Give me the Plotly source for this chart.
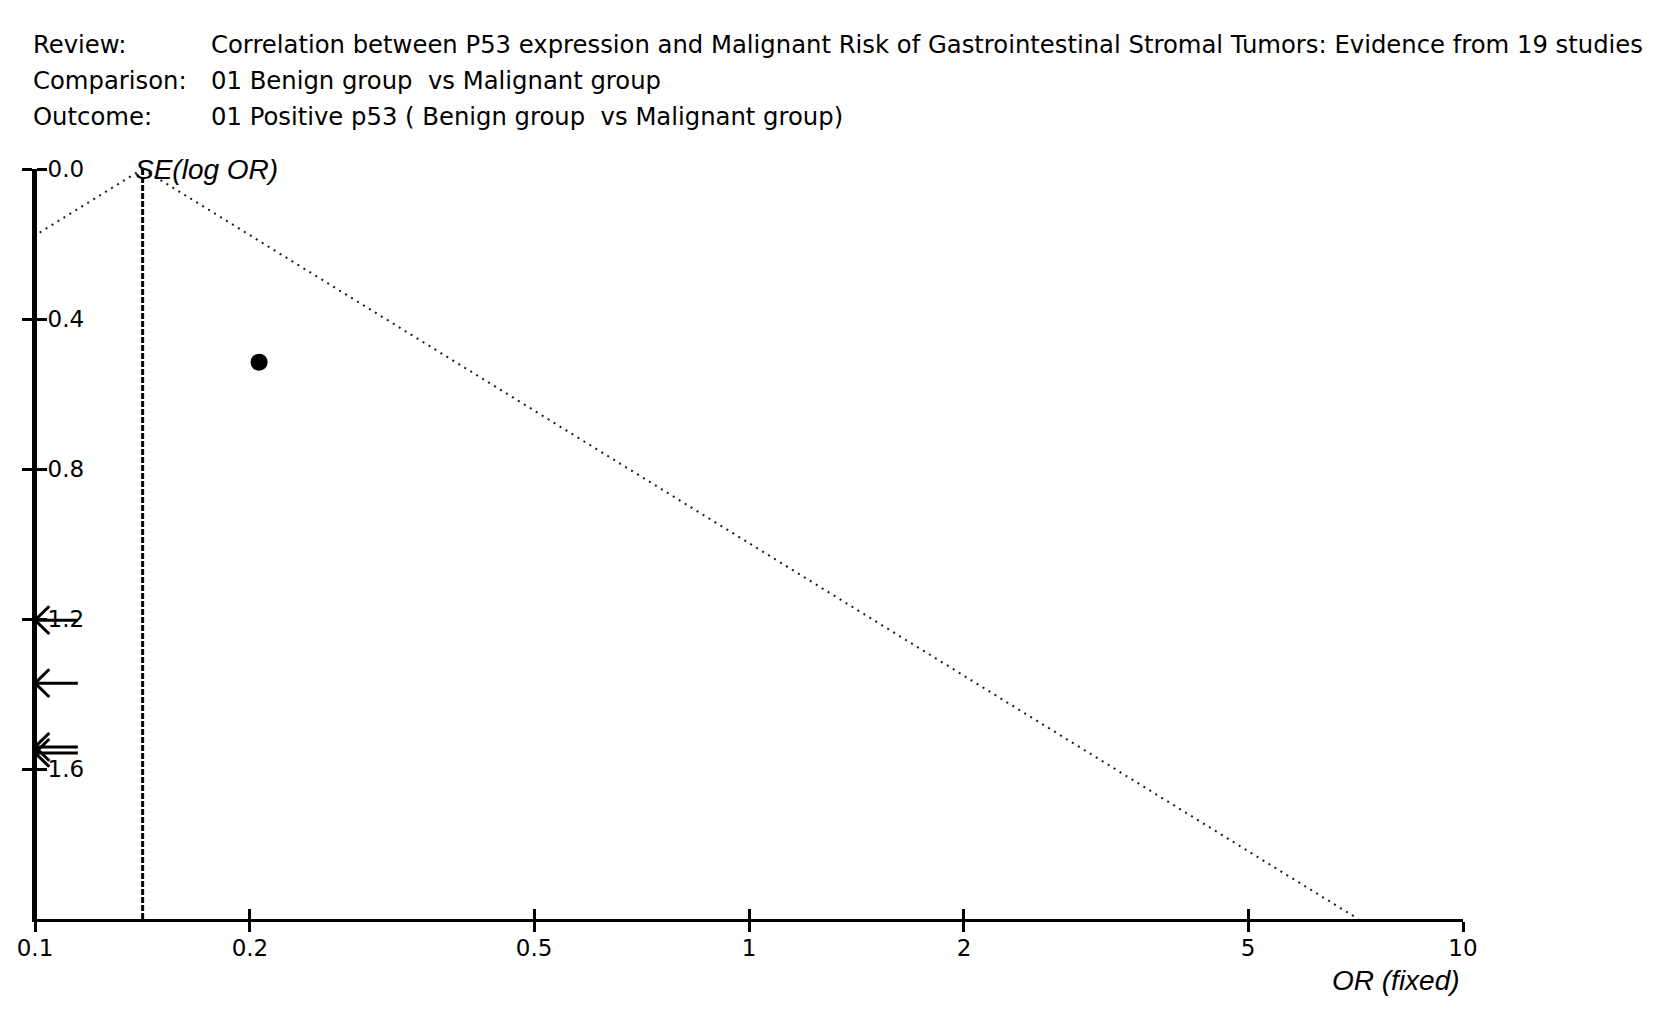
import numpy as np
import plotly.graph_objects as go

# header text
header_labels = ["Review:", "Comparison:", "Outcome:"]
header_values = [
    "Correlation between P53 expression and Malignant Risk of Gastrointestinal Stromal Tumors: Evidence from 19 studies",
    "01 Benign group  vs Malignant group",
    "01 Positive p53 ( Benign group  vs Malignant group)",
]

# funnel plot data
pooled_or = 0.1415
study_or = [0.206]
study_se = [0.515]
offscale_se = [1.203, 1.371, 1.541, 1.557]   # studies with OR below 0.1 (arrows)

se_ticks = [0.0, 0.4, 0.8, 1.2, 1.6]
or_ticks = [0.1, 0.2, 0.5, 1, 2, 5, 10]
or_ticktext = ["0.1", "0.2", "0.5", "1", "2", "5", "10"]
se_max = 2.0

FONT = "DejaVu Sans, Verdana, sans-serif"
ITALIC_FONT = "Liberation Sans, Arial, sans-serif"
W, H = 1654, 1022
L, R, T, B = 35, 191, 169, 103

fig = go.Figure()

# funnel (95% pseudo-confidence limits)
se_line = np.array([0.0, se_max])
lo = np.exp(np.log(pooled_or) - 1.96 * se_line)
hi = np.exp(np.log(pooled_or) + 1.96 * se_line)
for xs in (lo, hi):
    fig.add_trace(go.Scatter(x=xs, y=se_line, mode="lines", xaxis="x2", yaxis="y2",
                             line=dict(color="#1a1a1a", width=2, dash="2px,5px"),
                             hoverinfo="skip", showlegend=False))

# pooled estimate
fig.add_trace(go.Scatter(x=[pooled_or, pooled_or], y=[0, se_max], mode="lines",
                         line=dict(color="black", width=3, dash="6px,2px"),
                         hoverinfo="skip", showlegend=False))

# studies
fig.add_trace(go.Scatter(x=study_or, y=study_se, mode="markers",
                         marker=dict(color="black", size=17, symbol="circle"),
                         showlegend=False))

# off-scale arrows at the left edge
x_min = or_ticks[0]
tail = x_min * 10 ** 0.06
wing = x_min * 10 ** 0.02
dy = 0.037
ax, ay = [], []
for se in offscale_se:
    ax += [tail, x_min, None, wing, x_min, wing, None]
    ay += [se, se, None, se - dy, se, se + dy, None]
fig.add_trace(go.Scatter(x=ax, y=ay, mode="lines", line=dict(color="black", width=3),
                         hoverinfo="skip", showlegend=False))

axis_common = dict(showline=True, linecolor="black", linewidth=3, showgrid=False,
                   zeroline=False, tickcolor="black", tickwidth=3, ticklen=10)
tick_font = dict(family=FONT, size=23, color="black")

fig.update_layout(
    width=W, height=H,
    margin=dict(l=L, r=R, t=T, b=B),
    paper_bgcolor="white", plot_bgcolor="white",
    font=dict(family=FONT, size=22, color="black"),
    xaxis=dict(type="log", range=[-1, 1], tickvals=or_ticks, ticktext=or_ticktext,
               ticks="outside", tickfont=tick_font, ticklabelstandoff=-4, **axis_common),
    xaxis2=dict(type="log", range=[-1, 1], tickvals=or_ticks, overlaying="x",
                anchor="y", side="bottom", ticks="inside", showticklabels=False,
                **axis_common),
    # left half of the y ticks
    yaxis=dict(range=[se_max, 0], tickvals=se_ticks, ticks="outside",
               showticklabels=False, **axis_common),
    # right half of the y ticks + labels sitting inside the plot
    yaxis2=dict(range=[se_max, 0], tickvals=se_ticks, ticktext=[f"{v:.1f}" for v in se_ticks],
                overlaying="y", anchor="free", position=0, side="right",
                ticks="outside", tickfont=tick_font, ticklabelstandoff=-4, **axis_common),
)

pw, ph = W - L - R, H - T - B
def px(xp):
    return (xp - L) / pw
def py(yp):
    return (H - B - yp) / ph

ann = []
for i, (lab, val) in enumerate(zip(header_labels, header_values)):
    yy = py(44.5 + i * 35.8)
    ann.append(dict(text=lab, x=px(31), y=yy, xanchor="left", font=dict(size=24.3)))
    ann.append(dict(text=val, x=px(209), y=yy, xanchor="left", font=dict(size=24.3)))
ann.append(dict(text="<i>SE(log OR)</i>", x=px(133), y=1.0, xanchor="left",
                font=dict(family=ITALIC_FONT, size=28)))
ann.append(dict(text="<i>OR (fixed)</i>", x=px(1462), y=py(980), xanchor="right",
                font=dict(family=ITALIC_FONT, size=28)))
for a in ann:
    a.update(xref="paper", yref="paper", yanchor="middle", showarrow=False)
fig.update_layout(annotations=ann)

fig.write_html("out.html", config={"displayModeBar": False},
               post_script="document.body.style.margin='0px';")
